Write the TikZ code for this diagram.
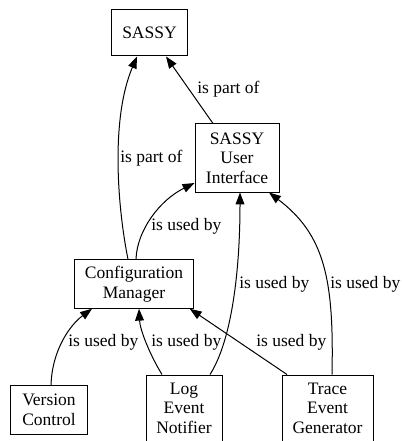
\documentclass[tikz,border=0pt]{standalone}
\usepackage{fontspec}
\setmainfont{Liberation Serif}
\usetikzlibrary{arrows.meta}
\begin{document}
\begin{tikzpicture}[x=0.8pt,y=-0.8pt,
  font=\fontsize{14pt}{15.6pt}\selectfont,
  box/.style={draw, line width=0.8pt, align=center, inner sep=0pt},
  rel/.style={line width=0.8pt, -{Triangle[length=9.5pt,width=7pt]}},
  lbl/.style={anchor=base west, inner sep=0pt}]
\useasboundingbox (0,0) rectangle (401,441);

% components
\node[box, minimum width=76*0.8pt, minimum height=46*0.8pt] (sassy) at (149.5,33) {SASSY};
\node[box, minimum width=84*0.8pt, minimum height=68*0.8pt] (ui) at (237,158) {SASSY\\User\\Interface};
\node[box, minimum width=118.5*0.8pt, minimum height=48.5*0.8pt] (cm) at (134,284) {Configuration\\Manager};
\node[box, minimum width=76.5*0.8pt, minimum height=48.5*0.8pt] (vc) at (49,410) {Version\\Control};
\node[box, minimum width=76*0.8pt, minimum height=66*0.8pt] (len) at (184,408) {Log\\Event\\Notifier};
\node[box, minimum width=91*0.8pt, minimum height=66*0.8pt] (teg) at (327.5,408) {Trace\\Event\\Generator};

% relations
\draw[rel] ([shift={(-6,0)}]cm.north) .. controls (118,210) and (110,120) .. ([shift={(-12.5,0)}]sassy.south);
\draw[rel] ([shift={(-24,0)}]ui.north) -- ([shift={(16.5,0)}]sassy.south);
\draw[rel] ([shift={(2,0)}]cm.north) .. controls (137,230) and (160,200) .. ([shift={(0,25)}]ui.west);
\draw[rel] ([shift={(26,0)}]len.north) .. controls (232,340) and (240,270) .. ([shift={(3,0)}]ui.south);
\draw[rel] ([shift={(4.5,0)}]teg.north) .. controls (334,280) and (325,235) .. ([shift={(32,0)}]ui.south);
\draw[rel] ([shift={(2,0)}]vc.north) .. controls (52,350) and (70,325) .. ([shift={(-42,0)}]cm.south);
\draw[rel] ([shift={(-22,0)}]len.north) .. controls (150,355) and (140,330) .. ([shift={(5,0)}]cm.south);
\draw[rel] ([shift={(-40.5,0)}]teg.north) -- ([shift={(-4,0)}]cm.south east);

% relation labels
\node[lbl] (l1) at (120,162.5) {is part of};
\node[lbl] (l2) at (197,94) {is part of};
\node[lbl] (l3) at (151,230) {is used by};
\node[lbl] (l4) at (239,288) {is used by};
\node[lbl] (l5) at (330,288) {is used by};
\node[lbl] (l6) at (68,346.5) {is used by};
\node[lbl] (l7) at (151,346.5) {is used by};
\node[lbl] (l8) at (256,346.5) {is used by};
\end{tikzpicture}
\end{document}
